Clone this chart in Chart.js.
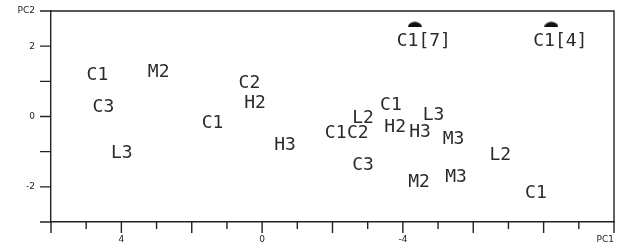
<!DOCTYPE html>
<html>
<head>
<meta charset="utf-8">
<script src="https://cdn.jsdelivr.net/npm/chart.js@4.4.0/dist/chart.umd.min.js"></script>
<style>
html, body { margin: 0; padding: 0; background: #fff; }
canvas { display: block; }
</style>
</head>
<body>
<canvas id="pcaChart" width="630" height="246"></canvas>
<script>
// sample scores on the first two principal components
const sampleLabels = ['C1', 'M2', 'C3', 'L3', 'C2', 'H2', 'C1', 'H3', 'C1', 'C2', 'L2',
    'C1', 'H2', 'H3', 'L3', 'M3', 'C3', 'M2', 'M3', 'L2', 'C1'];
const pc1Values = [4.68, 2.94, 4.51, 3.99, 0.36, 0.20, 1.41, -0.65, -2.09, -2.72, -2.87,
    -3.66, -3.78, -4.49, -4.87, -5.44, -2.87, -4.46, -5.51, -6.77, -7.78];
const pc2Values = [1.22, 1.32, 0.31, -0.99, 0.99, 0.44, -0.14, -0.77, -0.43, -0.43, 0.0,
    0.37, -0.27, -0.41, 0.09, -0.60, -1.34, -1.83, -1.69, -1.05, -2.12];

// pooled points (marked) with their counts
const pooledLabels = ['C1[7]', 'C1[4]'];
const pooledPc1 = [-4.34, -8.22];
const pooledPc2 = [2.62, 2.62];

// axis labels
const xTickValues = [4, 0, -4, -10];
const xTickText = ['4', '0', '-4', 'PC1'];
const yTickValues = [3, 2, 0, -2];
const yTickText = ['PC2', '2', '0', '-2'];

const axisColor = '#222';
const labelFont = '18px "DejaVu Sans Mono"';

// little dome used as marker for the pooled points
function makeDome() {
    const c = document.createElement('canvas');
    c.width = 14;
    c.height = 6;
    const g = c.getContext('2d');
    g.fillStyle = '#111';
    g.beginPath();
    g.ellipse(7, 6, 7, 5.5, 0, Math.PI, 2 * Math.PI);
    g.fill();
    return c;
}

const textLabels = {
    id: 'textLabels',
    afterDatasetsDraw(chart) {
        const ctx = chart.ctx;
        ctx.save();
        ctx.font = labelFont;
        ctx.fillStyle = '#2a2a2a';
        ctx.textAlign = 'center';
        ctx.textBaseline = 'alphabetic';
        chart.getDatasetMeta(0).data.forEach((pt, i) => {
            ctx.fillText(sampleLabels[i], pt.x, pt.y + 6.5);
        });
        chart.getDatasetMeta(1).data.forEach((pt, i) => {
            ctx.fillText(pooledLabels[i], pt.x + 9, pt.y + 21.5);
        });
        ctx.restore();
    }
};

const frameTicks = {
    id: 'frameTicks',
    afterDraw(chart) {
        const ctx = chart.ctx;
        const a = chart.chartArea;
        const x = chart.scales.x;
        const y = chart.scales.y;
        ctx.save();
        ctx.strokeStyle = axisColor;
        ctx.lineWidth = 1.4;
        ctx.beginPath();
        ctx.moveTo(a.left - 11, a.top);
        ctx.lineTo(a.right, a.top);
        ctx.lineTo(a.right, a.bottom + 10);
        for (let v = -3; v <= 3; v++) {
            const py = y.getPixelForValue(v);
            ctx.moveTo(a.left - 11, py);
            ctx.lineTo(a.left, py);
        }
        for (let v = -10; v <= 6; v++) {
            const px = x.getPixelForValue(v);
            ctx.moveTo(px, a.bottom);
            ctx.lineTo(px, a.bottom + (v % 2 === 0 ? 11 : 7));
        }
        ctx.stroke();

        ctx.fillStyle = axisColor;
        ctx.font = '9px "DejaVu Sans"';
        ctx.textBaseline = 'middle';
        ctx.textAlign = 'right';
        yTickValues.forEach((v, i) => {
            ctx.fillText(yTickText[i], a.left - 16, y.getPixelForValue(v));
        });
        xTickValues.forEach((v, i) => {
            const last = i === xTickValues.length - 1;
            ctx.textAlign = last ? 'right' : 'center';
            ctx.fillText(xTickText[i], x.getPixelForValue(v), a.bottom + 18);
        });
        ctx.restore();
    }
};

const ctx = document.getElementById('pcaChart').getContext('2d');
new Chart(ctx, {
    type: 'scatter',
    data: {
        datasets: [{
            data: pc1Values.map((v, i) => ({ x: v, y: pc2Values[i] })),
            pointRadius: 0,
            pointHoverRadius: 0
        }, {
            data: pooledPc1.map((v, i) => ({ x: v, y: pooledPc2[i] })),
            pointStyle: makeDome(),
            pointRadius: 7
        }]
    },
    options: {
        responsive: false,
        animation: false,
        events: [],
        layout: { padding: { top: 11, right: 16, left: 0, bottom: 0 } },
        plugins: {
            legend: { display: false },
            tooltip: { enabled: false }
        },
        scales: {
            x: {
                type: 'linear',
                min: -10,
                max: 6,
                reverse: true,
                grid: { display: false, drawTicks: false },
                ticks: { display: false },
                border: { display: true, color: axisColor, width: 1.4 },
                afterFit(scale) { scale.height = 24; }
            },
            y: {
                type: 'linear',
                min: -3,
                max: 3,
                grid: { display: false, drawTicks: false },
                ticks: { display: false },
                border: { display: true, color: axisColor, width: 1.4 },
                afterFit(scale) { scale.width = 51; }
            }
        }
    },
    plugins: [textLabels, frameTicks]
});
</script>
</body>
</html>
